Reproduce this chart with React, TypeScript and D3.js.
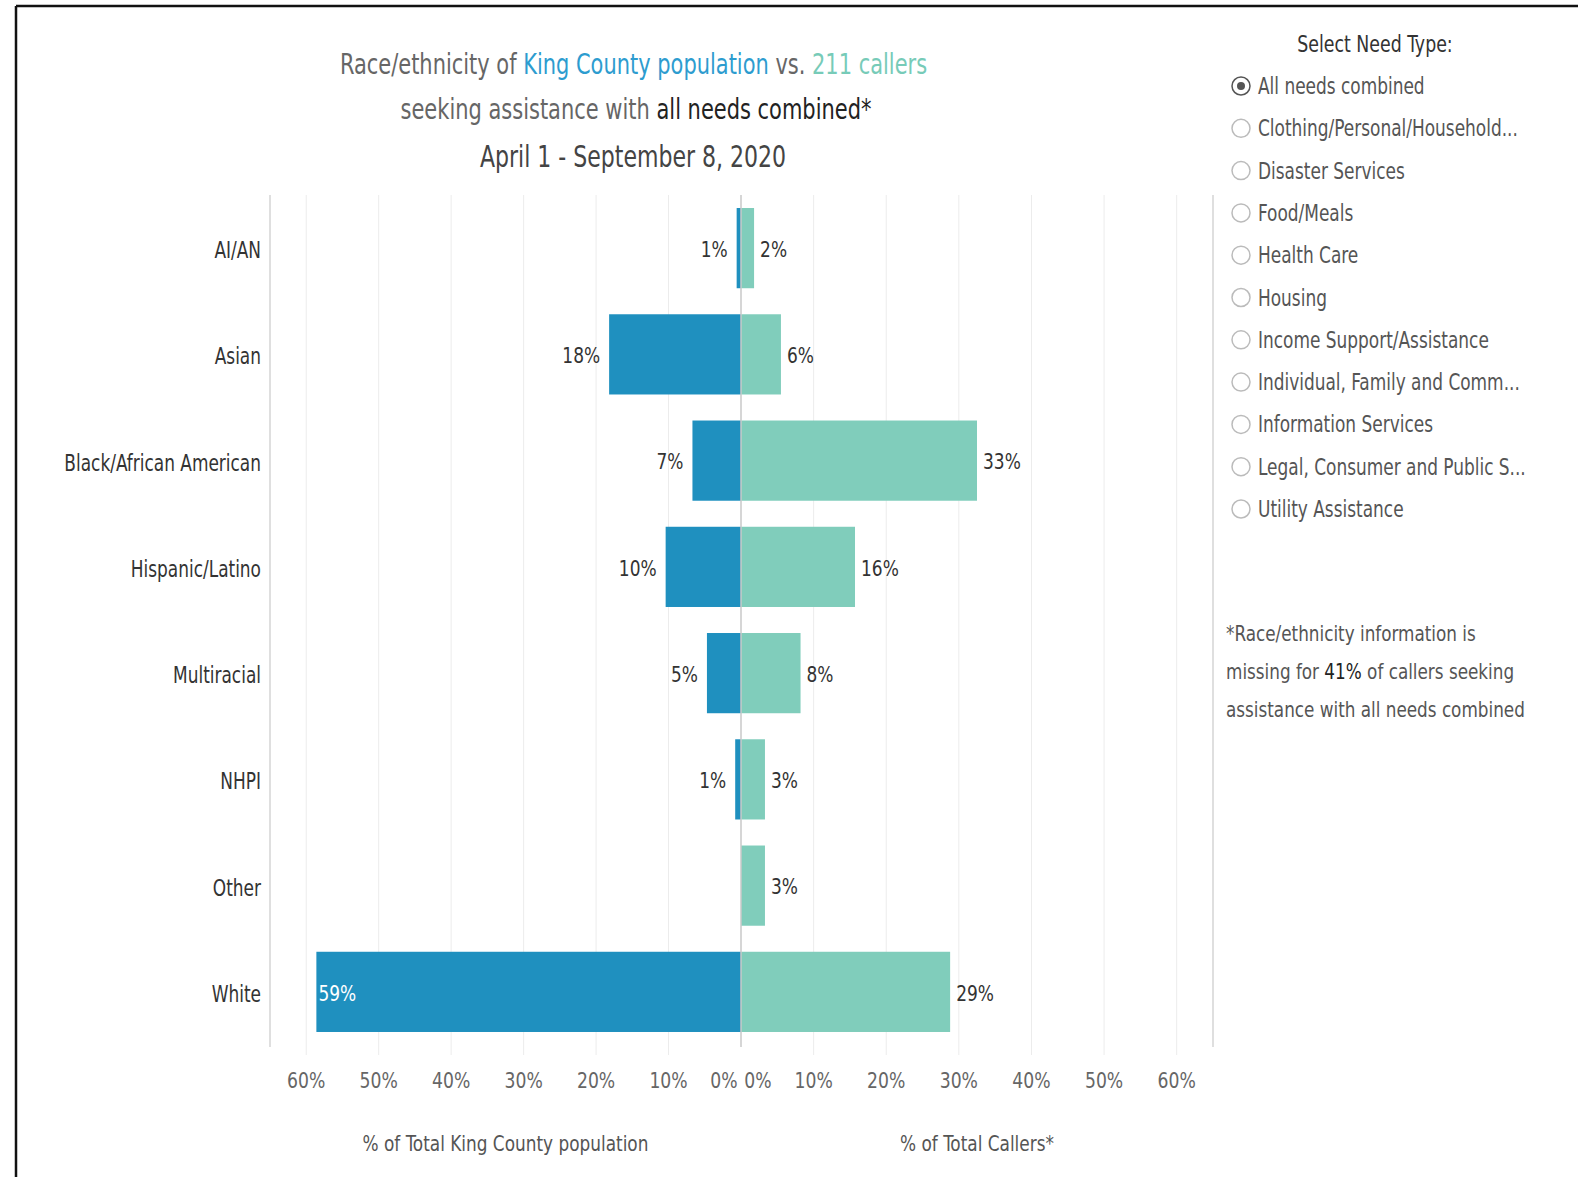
import React from "react";
import * as d3 from "d3";

const categories = ["AI/AN", "Asian", "Black/African American", "Hispanic/Latino", "Multiracial", "NHPI", "Other", "White"];
const populationPct = [0.6, 18.2, 6.7, 10.4, 4.7, 0.8, 0, 58.6];
const callersPct = [1.8, 5.5, 32.5, 15.7, 8.2, 3.3, 3.3, 28.8];
const tickValues = [0, 10, 20, 30, 40, 50, 60];
const needTypes = [
  "All needs combined",
  "Clothing/Personal/Household...",
  "Disaster Services",
  "Food/Meals",
  "Health Care",
  "Housing",
  "Income Support/Assistance",
  "Individual, Family and Comm...",
  "Information Services",
  "Legal, Consumer and Public S...",
  "Utility Assistance",
];
const selectedNeed = "All needs combined";

const FONT = "'Liberation Sans Narrow', 'Arial Narrow', 'DejaVu Sans Condensed', sans-serif";
const BLUE = "#1f90bf";
const TEAL = "#80cdbb";

const W = 1578;
const H = 1177;
const ZERO = 741;
const LEFT_EDGE = 270;
const RIGHT_EDGE = 1213;
const PANE_TOP = 195;
const PANE_BOTTOM = 1047;

type TxtProps = {
  x: number;
  y: number;
  sx?: number;
  anchor?: "start" | "middle" | "end";
  size: number;
  fill: string;
  children: React.ReactNode;
};

function Txt({ x, y, sx = 0.84, anchor = "start", size, fill, children }: TxtProps) {
  return (
    <text transform={`translate(${x},${y}) scale(${sx},1)`} dy="0.35em" textAnchor={anchor} fontSize={size} fill={fill}>
      {children}
    </text>
  );
}

function FitText({ x, y, width, size, fill, children }: { x: number; y: number; width: number; size: number; fill: string; children: React.ReactNode }) {
  const ref = React.useRef<SVGTextElement>(null);
  const [s, setS] = React.useState(0.84);
  React.useLayoutEffect(() => {
    if (ref.current) {
      const w = ref.current.getComputedTextLength();
      if (w > 0) setS(width / w);
    }
  }, [width]);
  return (
    <text ref={ref} transform={`translate(${x},${y}) scale(${s},1)`} textAnchor="middle" fontSize={size} fill={fill}>
      {children}
    </text>
  );
}

export default function App() {
  React.useEffect(() => {
    document.body.style.margin = "0";
    document.body.style.overflow = "hidden";
  }, []);

  const xLeft = d3.scaleLinear().domain([0, 65]).range([ZERO, LEFT_EDGE]);
  const xRight = d3.scaleLinear().domain([0, 65]).range([ZERO, RIGHT_EDGE]);
  const y = d3
    .scaleBand<string>()
    .domain(categories)
    .range([PANE_TOP, 1045])
    .paddingInner(0.245)
    .paddingOuter(0.1225);
  const bw = y.bandwidth();
  const fmt = (v: number) => `${Math.round(v)}%`;

  return (
    <svg width={W} height={H} style={{ display: "block", position: "absolute", left: 0, top: 0, background: "#fff" }} fontFamily={FONT}>
      {/* outer frame */}
      <line x1={16} y1={6} x2={W} y2={6} stroke="#111" strokeWidth={2.5} />
      <line x1={16} y1={6} x2={16} y2={H} stroke="#111" strokeWidth={2.5} />

      {/* title */}
      <FitText x={633.5} y={74} width={587} size={28} fill="#666">
        <tspan>Race/ethnicity of </tspan>
        <tspan fill="#2d9ccf">King County population</tspan>
        <tspan> vs. </tspan>
        <tspan fill="#77cbb8">211 callers</tspan>
      </FitText>
      <FitText x={636} y={119} width={471} size={28} fill="#666">
        <tspan>seeking assistance with </tspan>
        <tspan fill="#222">all needs combined*</tspan>
      </FitText>
      <FitText x={633} y={167} width={306} size={30} fill="#444">
        April 1 - September 8, 2020
      </FitText>

      {/* gridlines */}
      {tickValues.filter((t) => t > 0).map((t) => (
        <g key={"g" + t}>
          <line x1={xLeft(t)} x2={xLeft(t)} y1={PANE_TOP} y2={1055} stroke="#ececec" strokeWidth={1} />
          <line x1={xRight(t)} x2={xRight(t)} y1={PANE_TOP} y2={1055} stroke="#ececec" strokeWidth={1} />
        </g>
      ))}

      {/* pane borders */}
      <line x1={LEFT_EDGE} x2={LEFT_EDGE} y1={PANE_TOP} y2={PANE_BOTTOM} stroke="#d4d4d4" strokeWidth={1.5} />
      <line x1={RIGHT_EDGE} x2={RIGHT_EDGE} y1={PANE_TOP} y2={PANE_BOTTOM} stroke="#d4d4d4" strokeWidth={1.5} />

      {/* bars */}
      {categories.map((c, i) => {
        const yy = y(c) as number;
        const pv = populationPct[i];
        const cv = callersPct[i];
        const lx = xLeft(pv);
        const rx = xRight(cv);
        const cy = yy + bw / 2 + 1;
        const leftLabel = fmt(pv);
        const leftInside = lx - 9 - 40 < LEFT_EDGE;
        return (
          <g key={c}>
            {pv > 0 && <rect x={lx} y={yy} width={ZERO - lx} height={bw} fill={BLUE} />}
            {cv > 0 && <rect x={ZERO} y={yy} width={rx - ZERO} height={bw} fill={TEAL} />}
            {pv > 0 &&
              (leftInside ? (
                <Txt x={lx + 2} y={cy} sx={0.86} size={22} fill="#fff">
                  {leftLabel}
                </Txt>
              ) : (
                <Txt x={lx - 9} y={cy} sx={0.86} size={22} fill="#333" anchor="end">
                  {leftLabel}
                </Txt>
              ))}
            {cv > 0 && (
              <Txt x={rx + 6} y={cy} sx={0.86} size={22} fill="#333">
                {fmt(cv)}
              </Txt>
            )}
            <Txt x={261} y={cy + 1} sx={0.82} size={23} fill="#333" anchor="end">
              {c}
            </Txt>
          </g>
        );
      })}

      {/* zero line */}
      <line x1={ZERO} x2={ZERO} y1={PANE_TOP} y2={PANE_BOTTOM} stroke="#c8c8c8" strokeWidth={1.5} />

      {/* axis tick labels */}
      {tickValues.map((t) => (
        <g key={"t" + t}>
          <Txt x={t === 0 ? ZERO - 17 : xLeft(t)} y={1080} sx={0.87} size={22} fill="#666" anchor="middle">
            {`${t}%`}
          </Txt>
          <Txt x={t === 0 ? ZERO + 17 : xRight(t)} y={1080} sx={0.87} size={22} fill="#666" anchor="middle">
            {`${t}%`}
          </Txt>
        </g>
      ))}
      <Txt x={(LEFT_EDGE + ZERO) / 2} y={1143} sx={0.855} size={22} fill="#555" anchor="middle">
        % of Total King County population
      </Txt>
      <Txt x={(ZERO + RIGHT_EDGE) / 2} y={1143} sx={0.855} size={22} fill="#555" anchor="middle">
        % of Total Callers*
      </Txt>

      {/* need type selector */}
      <Txt x={1375} y={44} sx={0.84} size={23} fill="#333" anchor="middle">
        Select Need Type:
      </Txt>
      {needTypes.map((n, i) => {
        const cy = 86 + i * 42.3;
        const sel = n === selectedNeed;
        return (
          <g key={n}>
            <circle cx={1241} cy={cy} r={9} fill="#fff" stroke={sel ? "#555" : "#bbb"} strokeWidth={1.5} />
            {sel && <circle cx={1241} cy={cy} r={4} fill="#555" />}
            <Txt x={1258} y={cy} sx={0.82} size={23} fill="#555">
              {n}
            </Txt>
          </g>
        );
      })}

      {/* footnote */}
      <Txt x={1226} y={633} sx={0.85} size={22} fill="#555">
        *Race/ethnicity information is
      </Txt>
      <Txt x={1226} y={671} sx={0.85} size={22} fill="#555">
        <tspan>missing for </tspan>
        <tspan fill="#222">41%</tspan>
        <tspan> of callers seeking</tspan>
      </Txt>
      <Txt x={1226} y={709} sx={0.85} size={22} fill="#555">
        assistance with all needs combined
      </Txt>
    </svg>
  );
}
